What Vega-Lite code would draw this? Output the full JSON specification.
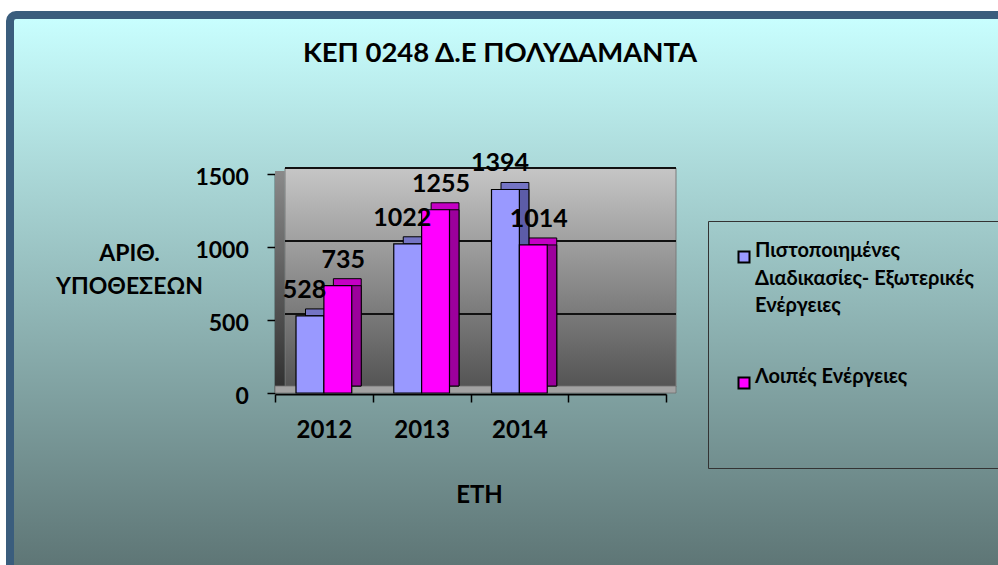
{
  "$schema": "https://vega.github.io/schema/vega-lite/v6.json",
  "width": 1000,
  "height": 562,
  "autosize": {"type": "none"},
  "padding": {"left": 10, "top": 15, "right": -12, "bottom": -12},
  "background": "#ffffff",
  "view": {
    "stroke": "#3a5d7d",
    "strokeWidth": 8,
    "cornerRadius": 6,
    "fill": {"gradient": "linear", "x1": 0, "y1": 0, "x2": 0, "y2": 1,
      "stops": [{"offset": 0, "color": "#c9ffff"}, {"offset": 1, "color": "#5c7373"}]}
  },
  "config": {
    "font": "Lato",
    "style": {"guide-label": {"lineHeight": 27.5}}
  },
  "title": {
    "text": "ΚΕΠ 0248 Δ.Ε ΠΟΛΥΔΑΜΑΝΤΑ",
    "font": "Lato",
    "fontSize": 27.5,
    "fontWeight": "bold",
    "color": "#000000",
    "anchor": "middle",
    "frame": "group",
    "baseline": "alphabetic",
    "offset": -74,
    "dx": -10
  },
  "datasets": {
    "bars": [
      {"year": "2012", "series": "Πιστοποιημένες Διαδικασίες- Εξωτερικές Ενέργειες", "value": 528},
      {"year": "2012", "series": "Λοιπές Ενέργειες", "value": 735},
      {"year": "2013", "series": "Πιστοποιημένες Διαδικασίες- Εξωτερικές Ενέργειες", "value": 1022},
      {"year": "2013", "series": "Λοιπές Ενέργειες", "value": 1255},
      {"year": "2014", "series": "Πιστοποιημένες Διαδικασίες- Εξωτερικές Ενέργειες", "value": 1394},
      {"year": "2014", "series": "Λοιπές Ενέργειες", "value": 1014}
    ],
    "grid": [{"v": 500}, {"v": 1000}, {"v": 1500}]
  },
  "resolve": {"scale": {"x": "independent", "xOffset": "independent"}},
  "layer": [
    {
      "data": {"values": [{}]},
      "mark": {"type": "rect", "xOffset": 10, "x2Offset": 10, "yOffset": -6, "y2Offset": -6,
        "fill": {"gradient": "linear", "x1": 0, "y1": 0, "x2": 0, "y2": 1,
          "stops": [{"offset": 0, "color": "#c6c6c6"}, {"offset": 1, "color": "#545454"}]},
        "stroke": "#7a7a7a", "strokeWidth": 1},
      "encoding": {
        "x": {"datum": 0, "type": "quantitative", "scale": {"domain": [0, 4], "range": [265, 656]}, "axis": null},
        "x2": {"datum": 4},
        "y": {"datum": 0, "type": "quantitative", "scale": {"domain": [0, 1500], "range": [378, 159], "nice": false, "zero": false}},
        "y2": {"datum": 1500}
      }
    },
    {
      "data": {"values": [{}]},
      "mark": {"type": "rect", "yOffset": -3, "y2Offset": -3,
        "fill": {"gradient": "linear", "x1": 0, "y1": 0, "x2": 0, "y2": 1,
          "stops": [{"offset": 0, "color": "#8a8a8a"}, {"offset": 1, "color": "#303030"}]}},
      "encoding": {
        "x": {"datum": 0, "type": "quantitative", "scale": {"domain": [0, 4], "range": [265, 656]}, "axis": null},
        "x2": {"datum": 0.1},
        "y": {"datum": 0, "type": "quantitative"},
        "y2": {"datum": 1500}
      }
    },
    {
      "data": {"values": [{}]},
      "mark": {"type": "rect", "x2Offset": 10, "y2Offset": -7, "fill": "#a2a2a2", "stroke": "#707070", "strokeWidth": 0.8},
      "encoding": {
        "x": {"datum": 0, "type": "quantitative", "scale": {"domain": [0, 4], "range": [265, 656]}, "axis": null},
        "x2": {"datum": 4},
        "y": {"datum": 0, "type": "quantitative"},
        "y2": {"datum": 0}
      }
    },
    {
      "data": {"name": "grid"},
      "mark": {"type": "rule", "xOffset": 10, "x2Offset": 10, "yOffset": -6, "color": "#111111", "strokeWidth": 2},
      "encoding": {
        "x": {"datum": 0, "type": "quantitative", "scale": {"domain": [0, 4], "range": [265, 656]}, "axis": null},
        "x2": {"datum": 4},
        "y": {"field": "v", "type": "quantitative"}
      }
    },
    {
      "data": {"name": "bars"},
      "mark": {"type": "bar", "yOffset": -7, "y2Offset": -7, "stroke": "#000000", "strokeWidth": 1},
      "encoding": {
        "x": {"field": "year", "type": "nominal", "scale": {"domain": ["2012", "2013", "2014", " "], "range": [274.5, 665.5], "paddingInner": 0, "paddingOuter": 0}, "axis": null},
        "xOffset": {"field": "series", "sort": ["Πιστοποιημένες Διαδικασίες- Εξωτερικές Ενέργειες", "Λοιπές Ενέργειες"], "scale": {"paddingInner": 0, "paddingOuter": 0.754}},
        "y": {"field": "value", "type": "quantitative"},
        "y2": {"datum": 0},
        "fill": {"condition": {"test": "datum.series == 'Λοιπές Ενέργειες'", "value": "#c400c4"}, "value": "#7474c4"}
      }
    },
    {
      "data": {"name": "bars"},
      "mark": {"type": "bar", "y2Offset": -7, "stroke": "#000000", "strokeWidth": 1},
      "encoding": {
        "x": {"field": "year", "type": "nominal", "scale": {"domain": ["2012", "2013", "2014", " "], "range": [274.5, 665.5], "paddingInner": 0, "paddingOuter": 0}, "axis": null},
        "xOffset": {"field": "series", "sort": ["Πιστοποιημένες Διαδικασίες- Εξωτερικές Ενέργειες", "Λοιπές Ενέργειες"], "scale": {"paddingInner": 0, "paddingOuter": 0.754}},
        "y": {"field": "value", "type": "quantitative"},
        "y2": {"datum": 0},
        "fill": {"condition": {"test": "datum.series == 'Λοιπές Ενέργειες'", "value": "#9c009c"}, "value": "#5c5ca8"}
      }
    },
    {
      "data": {"name": "bars"},
      "mark": {"type": "bar", "stroke": "#000000", "strokeWidth": 1.2},
      "encoding": {
        "x": {
          "field": "year", "type": "nominal",
          "scale": {"domain": ["2012", "2013", "2014", " "], "range": [265, 656], "paddingInner": 0, "paddingOuter": 0},
          "axis": {
            "orient": "bottom", "offset": -183, "tickBand": "extent",
            "domainColor": "#000000", "domainWidth": 2,
            "tickColor": "#000000", "tickSize": 8, "tickWidth": 1.5,
            "labelFont": "Lato", "labelFontSize": 24, "labelFontWeight": "bold", "labelColor": "#000000",
            "labelPadding": 16, "labelAngle": 0,
            "labelExpr": "datum.value == ' ' ? '' : datum.label",
            "title": "ΕΤΗ", "titleX": 469, "titleY": 108, "titleBaseline": "alphabetic", "titleAlign": "center", "titleAngle": 0,
            "titleFont": "Lato", "titleFontSize": 24, "titleFontWeight": "bold", "titleColor": "#000000"
          }
        },
        "xOffset": {"field": "series", "sort": ["Πιστοποιημένες Διαδικασίες- Εξωτερικές Ενέργειες", "Λοιπές Ενέργειες"], "scale": {"paddingInner": 0, "paddingOuter": 0.754}},
        "y": {
          "field": "value", "type": "quantitative",
          "scale": {"domain": [0, 1500], "range": [378, 159], "nice": false, "zero": false},
          "axis": {
            "values": [0, 500, 1000, 1500], "format": "d", "offset": -265, "grid": false,
            "domainColor": "#000000", "domainWidth": 1.5,
            "tickColor": "#000000", "tickSize": 8, "tickWidth": 1.5,
            "labelFont": "Lato", "labelFontSize": 23, "labelFontWeight": "bold", "labelColor": "#000000",
            "labelPadding": 18.7, "labelOffset": 3.5,
            "title": ["ΑΡΙΘ.", "ΥΠΟΘΕΣΕΩΝ"], "titleAngle": 0, "titleAlign": "center", "titleBaseline": "alphabetic",
            "titleX": -146, "titleY": 245, "titleLineHeight": 33,
            "titleFont": "Lato", "titleFontSize": 23, "titleFontWeight": "bold", "titleColor": "#000000"
          }
        },
        "y2": {"datum": 0},
        "color": {
          "field": "series", "type": "nominal",
          "scale": {"domain": ["Πιστοποιημένες Διαδικασίες- Εξωτερικές Ενέργειες", "Λοιπές Ενέργειες"], "range": ["#9999ff", "#ff00ff"]},
          "legend": {
            "orient": "none", "legendX": 698, "legendY": 206, "title": null,
            "padding": 26, "strokeColor": "#333333", "fillColor": null,
            "symbolType": "square", "symbolSize": 121, "symbolStrokeColor": "#000000", "symbolStrokeWidth": 2,
            "labelFont": "Lato", "labelFontSize": 20, "labelFontWeight": "bold", "labelColor": "#000000",
            "labelBaseline": "alphabetic", "labelOffset": 1, "labelLimit": 0, "rowPadding": 51,
            "labelExpr": "datum.label == 'Λοιπές Ενέργειες' ? ['Λοιπές Ενέργειες', ' ', ' '] : ['Πιστοποιημένες', 'Διαδικασίες- Εξωτερικές\u00a0\u00a0\u00a0\u00a0\u00a0\u00a0\u00a0\u00a0\u00a0', 'Ενέργειες']"
          }
        }
      }
    },
    {
      "data": {"name": "bars"},
      "mark": {"type": "text", "dy": -18, "baseline": "alphabetic", "align": "center", "font": "Lato", "fontSize": 25, "fontWeight": "bold", "color": "#000000"},
      "encoding": {
        "x": {"field": "year", "type": "nominal", "scale": {"domain": ["2012", "2013", "2014", " "], "range": [265, 656], "paddingInner": 0, "paddingOuter": 0}, "axis": null},
        "xOffset": {"field": "series", "sort": ["Πιστοποιημένες Διαδικασίες- Εξωτερικές Ενέργειες", "Λοιπές Ενέργειες"], "scale": {"paddingInner": 0, "paddingOuter": 0.754}},
        "y": {"field": "value", "type": "quantitative"},
        "text": {"field": "value", "type": "quantitative"}
      }
    }
  ]
}
